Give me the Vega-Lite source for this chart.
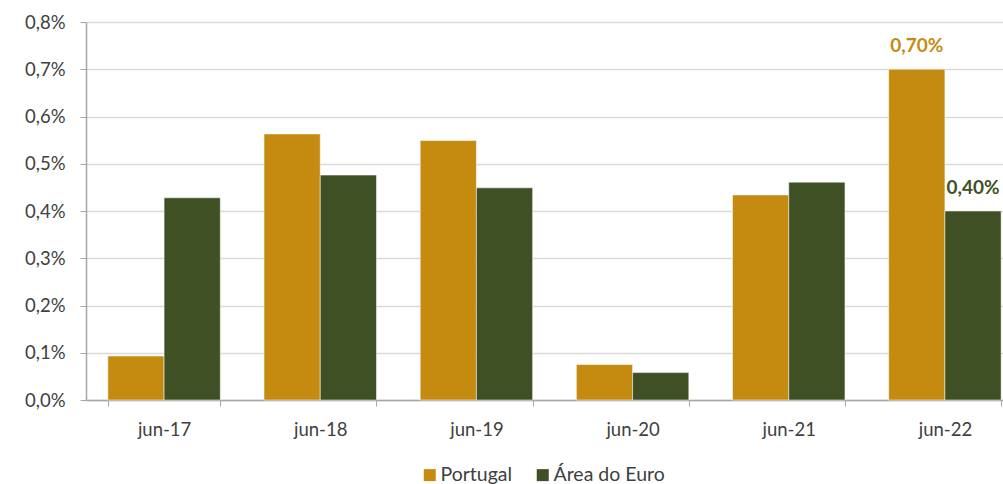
{
  "$schema": "https://vega.github.io/schema/vega-lite/v6.json",
  "autosize": "none",
  "width": 937,
  "height": 378,
  "padding": {"left": 86, "top": 22, "right": 0, "bottom": 84},
  "config": {
    "locale": {"number": {"decimal": ",", "thousands": ".", "grouping": [3], "currency": ["", " €"]}},
    "view": {"stroke": null},
    "font": "Lato"
  },
  "data": {
    "values": [
      {"date": "jun-17", "serie": "Portugal", "value": 0.00093},
      {"date": "jun-17", "serie": "Área do Euro", "value": 0.00428},
      {"date": "jun-18", "serie": "Portugal", "value": 0.00563},
      {"date": "jun-18", "serie": "Área do Euro", "value": 0.00476},
      {"date": "jun-19", "serie": "Portugal", "value": 0.00549},
      {"date": "jun-19", "serie": "Área do Euro", "value": 0.00449},
      {"date": "jun-20", "serie": "Portugal", "value": 0.00075},
      {"date": "jun-20", "serie": "Área do Euro", "value": 0.00058},
      {"date": "jun-21", "serie": "Portugal", "value": 0.00434},
      {"date": "jun-21", "serie": "Área do Euro", "value": 0.00461},
      {"date": "jun-22", "serie": "Portugal", "value": 0.0070},
      {"date": "jun-22", "serie": "Área do Euro", "value": 0.0040}
    ]
  },
  "encoding": {
    "x": {
      "field": "date", "type": "nominal", "sort": null,
      "scale": {"paddingInner": 0.28, "paddingOuter": 0.14},
      "axis": {
        "title": null, "labelAngle": 0, "labelFontSize": 18.5, "labelColor": "#404040",
        "labelPadding": 14, "domainColor": "#a6a6a6", "tickColor": "#a6a6a6",
        "tickBand": "extent", "tickSize": 6, "grid": false, "domainWidth": 1.5
      }
    },
    "xOffset": {"field": "serie", "type": "nominal", "sort": ["Portugal", "Área do Euro"]},
    "y": {
      "field": "value", "type": "quantitative",
      "scale": {"domain": [0, 0.008], "nice": false},
      "axis": {
        "title": null, "format": ".1%", "values": [0, 0.001, 0.002, 0.003, 0.004, 0.005, 0.006, 0.007, 0.008],
        "labelOverlap": false, "labelFontSize": 18.5, "labelColor": "#404040", "labelPadding": 15,
        "domainColor": "#a6a6a6", "domainWidth": 1.5, "tickColor": "#a6a6a6", "tickSize": 6,
        "gridColor": "#d9d9d9", "gridWidth": 1.5
      }
    },
    "color": {
      "field": "serie", "type": "nominal",
      "sort": ["Portugal", "Área do Euro"],
      "scale": {"domain": ["Portugal", "Área do Euro"], "range": ["#C58B10", "#3F5124"]},
      "legend": {
        "title": null, "orient": "none", "legendX": 334, "legendY": 443, "direction": "horizontal", "symbolType": "square",
        "symbolSize": 144, "symbolStrokeWidth": 0, "labelFontSize": 19.5, "labelColor": "#404040",
        "columnPadding": 20, "labelOffset": 1
      }
    }
  },
  "layer": [
    {"mark": {"type": "bar", "stroke": "white", "strokeWidth": 0.5}},
    {
      "transform": [{"filter": "datum.date === 'jun-22'"}],
      "mark": {"type": "text", "fontWeight": "bold", "fontSize": 19, "baseline": "bottom", "dy": -13},
      "encoding": {"text": {"field": "value", "type": "quantitative", "format": ".2%"}}
    }
  ]
}
